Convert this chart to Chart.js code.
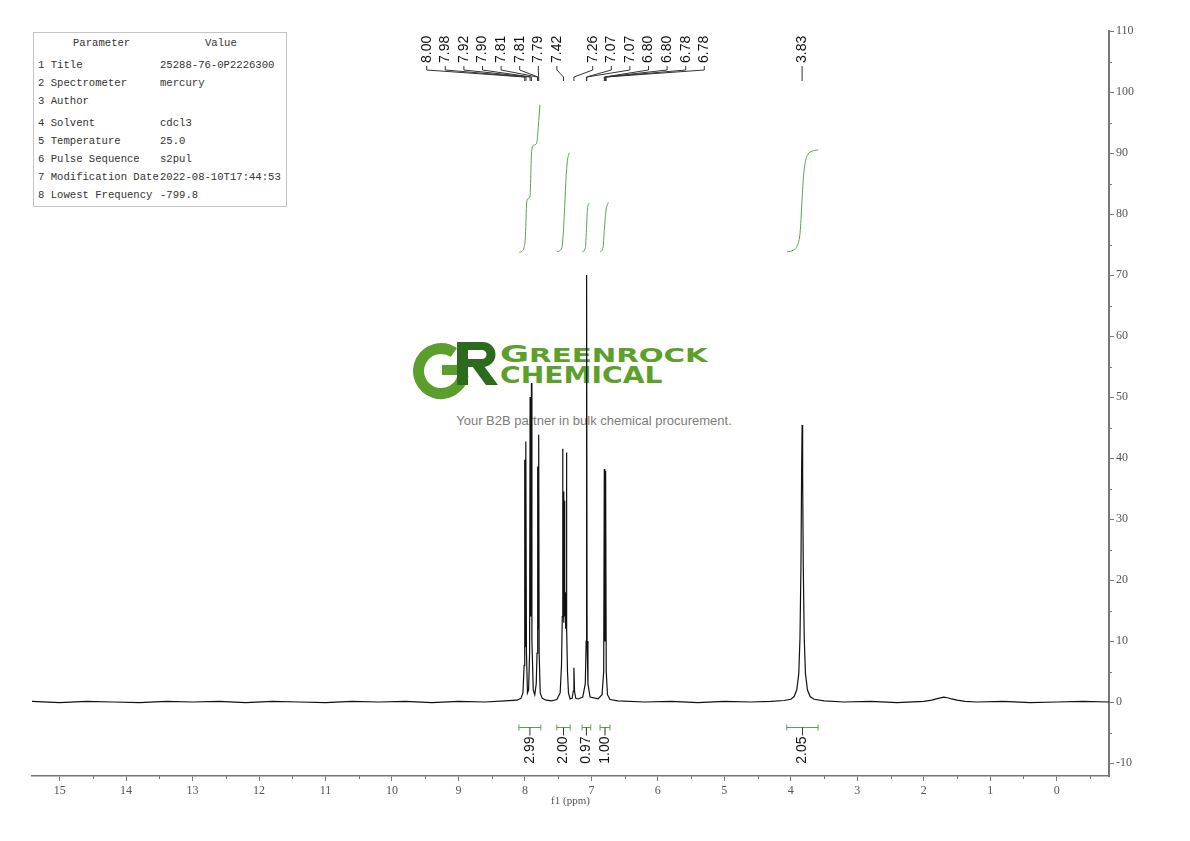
<!DOCTYPE html>
<html>
<head>
<meta charset="utf-8">
<script src="https://cdn.jsdelivr.net/npm/chart.js@4.4.1/dist/chart.umd.min.js"></script>
<style>
  html, body { margin: 0; padding: 0; background: #fff; }
  #wrap { position: relative; width: 1190px; height: 841px; overflow: hidden; }
  #mark { position: absolute; left: 0; top: 0; width: 1190px; height: 841px; z-index: 0; }
  #chart { position: absolute; left: 0; top: 0; z-index: 1; }
  #params { position: absolute; left: 33px; top: 32px; width: 252px; height: 173px; border: 1px solid #c4c4c4;
            font: 10.6px "Liberation Mono", monospace; color: #333; z-index: 2; background: #fff; }
  #params div { position: absolute; white-space: pre; line-height: 18px; }
  .wm { position: absolute; left: 500px; font-family: "DejaVu Sans", sans-serif; font-weight: bold; color: #5c9f2a;
        white-space: nowrap; transform-origin: 0 0; line-height: 23px; }
  .tag { position: absolute; width: 1190px; text-align: center; top: 413px; left: -1px;
         font: 13px "Liberation Sans", Arial, sans-serif; color: #7c7c7c; line-height: 15px; }
</style>
</head>
<body>
<div id="wrap">
  <div id="mark">
    <svg width="100" height="70" style="position:absolute;left:405px;top:335px">
      <path d="M48.9,17.6 A22.5,22.5 0 1 0 58.2,39.9" fill="none" stroke="#5a9e2b" stroke-width="11"/>
      <rect x="37" y="30" width="24" height="10" fill="#5a9e2b"/>
      <path fill="#2d6a1e" fill-rule="evenodd"
            d="M52,7 H78 A12.5,12.5 0 0 1 78,32 H63 V50 H52 Z M63,15 H77 A4.5,4.5 0 0 1 77,24 H63 Z"/>
      <path fill="#2d6a1e" d="M67,31 H79 L93,50 H81 Z"/>
    </svg>
    <div class="wm" id="wm1" style="top:343px"><span style="font-size:23px">G</span><span style="font-size:19px">REENROCK</span></div>
    <div class="wm" id="wm2" style="top:364px;font-size:23px">CHEMICAL</div>
    <div class="tag">Your B2B partner in bulk chemical procurement.</div>
  </div>
  <canvas id="chart" width="1190" height="841"></canvas>
  <div id="params"></div>
</div>
<script>
// ---------- spectrum (ppm / intensity) ----------
const specPpm = [
  15.42, 15.0, 14.6, 14.2, 13.8, 13.4, 13.0, 12.6, 12.2, 11.8, 11.4, 11.0, 10.6, 10.2, 9.8, 9.4, 9.0, 8.6, 8.3, 8.12,
  8.06, 8.03, 8.012, 8.003, 7.997, 7.99, 7.984, 7.977, 7.962, 7.945, 7.93, 7.922, 7.916, 7.909, 7.902, 7.895, 7.875, 7.852, 7.83, 7.818, 7.811, 7.805, 7.799, 7.793, 7.786, 7.77,
  7.74, 7.68, 7.6, 7.52, 7.47, 7.45, 7.438, 7.433, 7.428, 7.423, 7.418, 7.413, 7.408, 7.404, 7.399, 7.393, 7.387, 7.382, 7.377, 7.373, 7.368, 7.36, 7.345, 7.32, 7.29, 7.272, 7.263, 7.254, 7.235, 7.2,
  7.13, 7.092, 7.079, 7.072, 7.065, 7.052, 7.02, 6.9, 6.84, 6.815, 6.806, 6.799, 6.793, 6.786, 6.777, 6.758, 6.72, 6.6,
  6.2, 5.8, 5.4, 5.0, 4.6, 4.3, 4.1, 4.0, 3.95, 3.91, 3.88, 3.862, 3.847, 3.838, 3.83, 3.822, 3.813, 3.798, 3.78, 3.75, 3.71, 3.65,
  3.5, 3.2, 2.8, 2.4, 2.0, 1.88, 1.78, 1.7, 1.64, 1.58, 1.5, 1.38, 1.2, 0.8, 0.4, 0.0, -0.4, -0.79
];
const specInt = [
  0.1, -0.1, 0.1, 0.0, -0.1, 0.1, 0.0, 0.1, -0.1, 0.1, 0.0, -0.1, 0.1, 0.0, 0.1, -0.1, 0.1, 0.0, 0.2, 0.3,
  0.6, 1.5, 6, 39.7, 10, 9, 42.7, 8, 1.5, 2, 8, 50, 14, 14, 52.3, 10, 2, 1.2, 3, 8, 38.6, 12, 12, 43.8, 8, 1.5,
  0.6, 0.3, 0.2, 0.4, 1.5, 6, 14, 41.5, 15, 20, 13, 34.5, 18, 33, 14, 18, 12, 16, 13, 40.9, 12, 5, 1.5, 0.5, 0.6, 1.8, 5.6, 1.8, 0.6, 0.5,
  0.8, 3, 10, 70, 10, 3, 0.8, 0.5, 1.2, 5, 38.2, 10, 10, 37.9, 5, 1.2, 0.4, 0.2,
  0.0, 0.1, -0.1, 0.1, 0.0, 0.1, 0.25, 0.45, 0.9, 2, 4.7, 10.5, 22.7, 37, 45.4, 37, 22.7, 10.5, 4.7, 2, 0.9, 0.45,
  0.2, 0.0, 0.1, -0.1, 0.1, 0.3, 0.6, 0.8, 0.7, 0.5, 0.3, 0.1, 0.0, 0.1, -0.1, 0.0, 0.1, 0.0
];

// ---------- integral curves ----------
const c1Ppm = [8.086, 8.015, 7.992, 7.974, 7.955, 7.925, 7.899, 7.865, 7.824, 7.797, 7.774];
const c1Val = [73.7, 74.4, 76.6, 81.8, 82.5, 82.8, 90.2, 91.3, 91.6, 94.6, 97.9];
const c2Ppm = [7.523, 7.448, 7.425, 7.405, 7.383, 7.36, 7.334];
const c2Val = [73.8, 74.4, 76.5, 80.5, 85.6, 88.8, 90.0];
const c3Ppm = [7.138, 7.09, 7.075, 7.06, 7.033];
const c3Val = [73.8, 74.5, 77.4, 80.7, 81.8];
const c4Ppm = [6.872, 6.827, 6.805, 6.782, 6.747];
const c4Val = [73.8, 74.4, 77.5, 80.5, 81.9];
const c5Ppm = [4.056, 3.96, 3.9, 3.86, 3.835, 3.81, 3.78, 3.74, 3.68, 3.589];
const c5Val = [73.8, 74.1, 74.9, 77.0, 81.5, 86.0, 88.6, 89.8, 90.3, 90.5];

// ---------- integral brackets ----------
const intFrom = [8.09, 7.52, 7.14, 6.87, 4.06];
const intTo   = [7.76, 7.32, 7.01, 6.72, 3.59];
const intText = ['2.99', '2.00', '0.97', '1.00', '2.05'];

// ---------- peak picking ----------
const peakText = ['8.00', '7.98', '7.92', '7.90', '7.81', '7.81', '7.79', '7.42',
                  '7.26', '7.07', '7.07', '6.80', '6.80', '6.78', '6.78', '3.83'];
const peakPpm  = [8.003, 7.984, 7.922, 7.902, 7.811, 7.805, 7.793, 7.42,
                  7.263, 7.075, 7.069, 6.806, 6.799, 6.786, 6.779, 3.83];

// ---------- axes ----------
const xMin = -0.787, xMax = 15.416;
const yMin = -12.13, yMax = 110;

// ---------- parameter table ----------
const paramNames  = ['1 Title', '2 Spectrometer', '3 Author', '4 Solvent', '5 Temperature',
                     '6 Pulse Sequence', '7 Modification Date', '8 Lowest Frequency'];
const paramValues = ['25288-76-0P2226300', 'mercury', '', 'cdcl3', '25.0',
                     's2pul', '2022-08-10T17:44:53', '-799.8'];

/* ---------- table ---------- */
(function buildTable() {
    const box = document.getElementById('params');
    const rowMid = [65, 83, 101, 123, 141, 159, 177, 195];
    let html = '<div style="left:39px;top:1px">Parameter</div><div style="left:171px;top:1px">Value</div>';
    paramNames.forEach((n, i) => {
        const top = rowMid[i] - 9 - 33;
        html += `<div style="left:4px;top:${top}px">${n}</div>`;
        html += `<div style="left:126px;top:${top}px">${paramValues[i]}</div>`;
    });
    box.innerHTML = html;
})();

/* ---------- watermark width fit ---------- */
function fitWidth(id, w) {
    const el = document.getElementById(id);
    el.style.transform = `scaleX(${w / el.offsetWidth})`;
}
fitWidth('wm1', 208);
fitWidth('wm2', 163);

const pts = (xs, ys) => xs.map((p, i) => ({ x: p, y: ys[i] }));
const green = '#52a452';

/* ---------- overlay: minor ticks, peak labels, integral marks ---------- */
const annot = {
    id: 'annot',
    afterDraw(chart) {
        const { ctx, chartArea, scales: { x, y } } = chart;
        ctx.save();
        ctx.lineWidth = 1;
        ctx.strokeStyle = '#777';
        // minor ticks
        for (let v = -0.5; v < xMax; v += 1) {
            const px = Math.round(x.getPixelForValue(v)) + 0.5;
            ctx.beginPath(); ctx.moveTo(px, chartArea.bottom); ctx.lineTo(px, chartArea.bottom + 3); ctx.stroke();
        }
        for (let v = -5; v < yMax; v += 10) {
            const py = Math.round(y.getPixelForValue(v)) + 0.5;
            ctx.beginPath(); ctx.moveTo(chartArea.right, py); ctx.lineTo(chartArea.right + 3, py); ctx.stroke();
        }

        // peak labels
        ctx.font = '14px "Liberation Sans", Arial, sans-serif';
        ctx.fillStyle = '#111';
        ctx.strokeStyle = '#333';
        peakText.forEach((t, i) => {
            const px = x.getPixelForValue(peakPpm[i]);
            let lx = px;
            if (i < 8) lx = 426.7 + i * 18.6;
            else if (i < 15) lx = 592.7 + (i - 8) * 18.6;
            ctx.save();
            ctx.translate(lx, 63);
            ctx.rotate(-Math.PI / 2);
            ctx.textAlign = 'left';
            ctx.textBaseline = 'middle';
            ctx.fillText(t, 0, 0);
            ctx.restore();
            ctx.beginPath();
            ctx.moveTo(lx, 66); ctx.lineTo(lx, 70); ctx.lineTo(px, 77); ctx.lineTo(px, 81);
            ctx.stroke();
        });

        // integral brackets
        const by = Math.round(y.getPixelForValue(-4.1)) + 0.5;
        intFrom.forEach((f, i) => {
            const x1 = x.getPixelForValue(f), x2 = x.getPixelForValue(intTo[i]);
            const cx = (x1 + x2) / 2;
            ctx.strokeStyle = green;
            ctx.beginPath();
            ctx.moveTo(x1, by); ctx.lineTo(x2, by);
            ctx.moveTo(x1, by - 3); ctx.lineTo(x1, by + 3);
            ctx.moveTo(x2, by - 3); ctx.lineTo(x2, by + 3);
            ctx.stroke();
            ctx.strokeStyle = '#333';
            ctx.beginPath(); ctx.moveTo(cx, by); ctx.lineTo(cx, by + 8); ctx.stroke();
            ctx.save();
            ctx.translate(cx, by + 9);
            ctx.rotate(-Math.PI / 2);
            ctx.textAlign = 'right';
            ctx.textBaseline = 'middle';
            ctx.fillText(intText[i], 0, 0);
            ctx.restore();
        });
        ctx.restore();
    }
};

const tickFont = { family: '"Liberation Serif", "DejaVu Serif", serif', size: 12 };
const curve = (xs, ys) => ({
    data: pts(xs, ys), borderColor: green, borderWidth: 1, pointRadius: 0,
    cubicInterpolationMode: 'monotone'
});

new Chart(document.getElementById('chart'), {
    type: 'line',
    data: {
        datasets: [
            { data: pts(specPpm, specInt), borderColor: '#111', borderWidth: 1.2, pointRadius: 0, tension: 0 },
            curve(c1Ppm, c1Val), curve(c2Ppm, c2Val), curve(c3Ppm, c3Val), curve(c4Ppm, c4Val), curve(c5Ppm, c5Val)
        ]
    },
    options: {
        responsive: false,
        animation: false,
        devicePixelRatio: 1,
        layout: { padding: { left: 32, top: 31, right: 0, bottom: 0 } },
        plugins: { legend: { display: false }, tooltip: { enabled: false } },
        scales: {
            x: {
                type: 'linear', reverse: true, min: xMin, max: xMax,
                afterFit: s => { s.height = 65; },
                border: { color: '#777', width: 1.5 },
                grid: {
                    drawOnChartArea: false, tickLength: 5,
                    tickColor: c => (c.tick && !Number.isInteger(c.tick.value)) ? 'rgba(0,0,0,0)' : '#777'
                },
                ticks: {
                    stepSize: 0.5, includeBounds: false, autoSkip: false, maxRotation: 0, padding: 3,
                    color: '#555', font: tickFont,
                    callback: v => Number.isInteger(v) ? String(v) : ''
                },
                title: {
                    display: true, text: 'f1 (ppm)', color: '#555',
                    font: { family: '"Liberation Serif", serif', size: 11 }, padding: { top: 0, bottom: 33 }
                }
            },
            y: {
                type: 'linear', position: 'right', min: yMin, max: yMax,
                afterFit: s => { s.width = 81; },
                border: { color: '#777', width: 2 },
                grid: {
                    drawOnChartArea: false, tickLength: 5,
                    tickColor: c => (c.tick && c.tick.value % 10 !== 0) ? 'rgba(0,0,0,0)' : '#777'
                },
                ticks: {
                    stepSize: 5, includeBounds: false, padding: 2, color: '#555', font: tickFont,
                    callback: v => v % 10 === 0 ? String(v) : ''
                }
            }
        }
    },
    plugins: [annot]
});
</script>
</body>
</html>
